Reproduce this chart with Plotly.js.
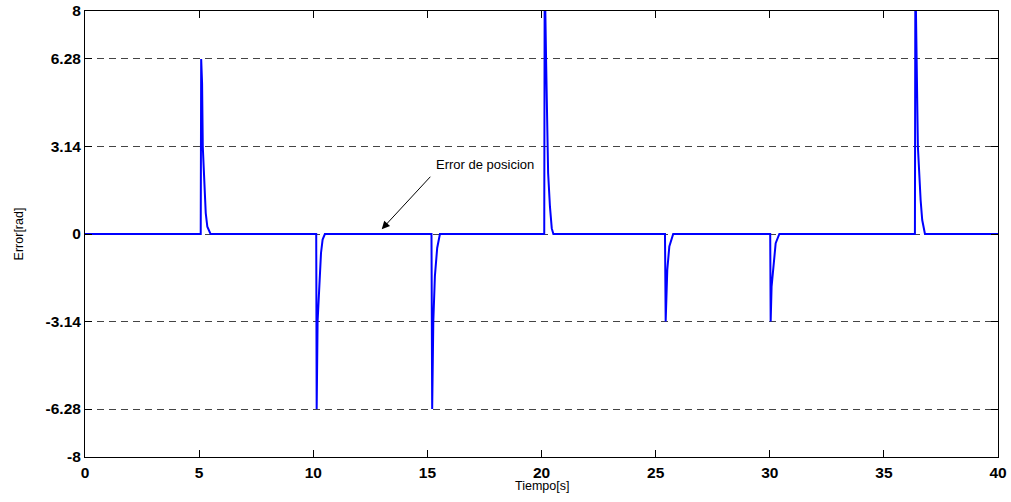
<!DOCTYPE html>
<html>
<head>
<meta charset="utf-8">
<script src="https://cdn.plot.ly/plotly-3.0.1.min.js"></script>
<style>
  html, body { margin: 0; padding: 0; background: #fff; }
  #chart { width: 1011px; height: 502px; }
</style>
</head>
<body>
<div id="chart"></div>
<script>
// Time samples [s] and position error [rad]
const time = [
  0,
  5.07, 5.09, 5.13, 5.16, 5.23, 5.29, 5.36, 5.46, 5.50,
  10.13, 10.15, 10.19, 10.27, 10.34, 10.41, 10.51,
  15.18, 15.21, 15.26, 15.33, 15.43, 15.55,
  20.12, 20.14, 20.20, 20.25, 20.29, 20.37, 20.45, 20.52,
  25.41, 25.44, 25.51, 25.60, 25.77,
  30.02, 30.04, 30.08, 30.16, 30.26, 30.42,
  36.36, 36.38, 36.43, 36.49, 36.61, 36.68, 36.80,
  40
];
const errorRad = [
  0,
  0, 6.28, 5.4, 3.14, 1.6, 0.75, 0.26, 0.02, 0,
  0, -6.28, -3.14, -1.53, -0.68, -0.2, 0,
  0, -6.28, -3.14, -1.5, -0.5, 0,
  0, 9.42, 6.28, 3.14, 2.19, 0.98, 0.2, 0,
  0, -3.14, -1.29, -0.45, 0,
  0, -3.14, -1.89, -1.05, -0.33, 0,
  0, 9.42, 6.28, 3.14, 1.22, 0.5, 0,
  0
];
const yTickVals = [-8, -6.28, -3.14, 0, 3.14, 6.28, 8];
const yTickText = ['-8', '-6.28', '-3.14', '0', '3.14', '6.28', '8'];
const xTickVals = [0, 5, 10, 15, 20, 25, 30, 35, 40];

const trace = {
  x: time,
  y: errorRad,
  type: 'scatter',
  mode: 'lines',
  line: { color: '#0000ff', width: 2 },
  hoverinfo: 'skip'
};

const tickFont = { family: 'Liberation Sans, Arial, sans-serif', size: 15.5, color: '#000', weight: 700 };
const labelFont = { family: 'Liberation Sans, Arial, sans-serif', size: 12.5, color: '#000' };

const layout = {
  width: 1011,
  height: 502,
  margin: { l: 85, r: 13, t: 11, b: 45, pad: 0 },
  paper_bgcolor: '#ffffff',
  plot_bgcolor: '#ffffff',
  showlegend: false,
  xaxis: {
    range: [0, 40],
    tickmode: 'array',
    tickvals: xTickVals,
    ticks: 'inside',
    ticklen: 7,
    tickwidth: 1,
    tickcolor: '#000',
    ticklabelstandoff: 1,
    showline: true,
    linecolor: '#000',
    linewidth: 1,
    mirror: 'ticks',
    showgrid: false,
    zeroline: false,
    tickfont: tickFont
  },
  yaxis: {
    range: [-8, 8],
    tickmode: 'array',
    tickvals: yTickVals,
    ticktext: yTickText,
    ticks: 'inside',
    ticklen: 7,
    tickwidth: 1,
    tickcolor: '#000',
    showline: true,
    linecolor: '#000',
    linewidth: 1,
    mirror: 'ticks',
    showgrid: true,
    gridcolor: '#444',
    gridwidth: 1,
    griddash: '7px,5px',
    zeroline: false,
    tickfont: tickFont,
    title: { text: 'Error[rad]', font: labelFont, standoff: 19 }
  },
  annotations: [
    {
      x: 13.0, y: 0.17, xref: 'x', yref: 'y',
      text: '',
      showarrow: true,
      ax: 50, ay: -54,
      arrowhead: 2, arrowsize: 1.6, arrowwidth: 1, arrowcolor: '#000'
    },
    {
      x: 15.29, y: 2.48, xref: 'x', yref: 'y',
      text: 'Error de posicion',
      showarrow: false,
      xanchor: 'left', yanchor: 'middle',
      font: { family: 'Liberation Sans, Arial, sans-serif', size: 13, color: '#000' }
    },
    {
      x: 0.5, y: -0.066, xref: 'paper', yref: 'paper',
      text: 'Tiempo[s]',
      showarrow: false,
      xanchor: 'center', yanchor: 'middle',
      font: labelFont
    }
  ]
};

Plotly.newPlot('chart', [trace], layout, { displayModeBar: false, staticPlot: true });
</script>
</body>
</html>
